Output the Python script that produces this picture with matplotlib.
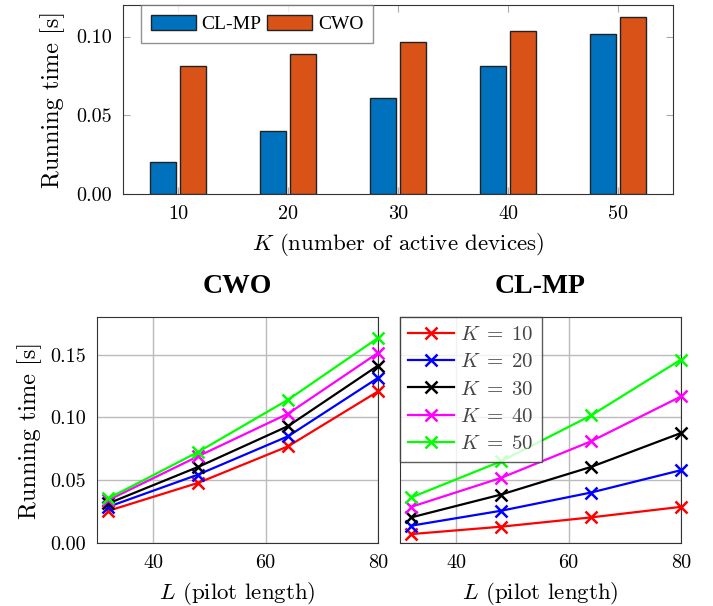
import matplotlib
matplotlib.use('Agg')
import matplotlib.pyplot as plt
import numpy as np

plt.rcParams['font.family'] = ['cmr10', 'DejaVu Serif']
plt.rcParams['mathtext.fontset'] = 'cm'
plt.rcParams['axes.unicode_minus'] = False

# bar chart data
K_vals = [10, 20, 30, 40, 50]
t_clmp = [0.0202, 0.0403, 0.0607, 0.0811, 0.1015]
t_cwo = [0.0815, 0.0890, 0.0964, 0.1036, 0.1121]

# line chart data
L_vals = [32, 48, 64, 80]
K_labels = [10, 20, 30, 40, 50]
line_colors = ['#ff0000', '#0000ff', '#000000', '#ff00ff', '#00ff00']
cwo_times = [
    [0.0256, 0.0479, 0.0770, 0.1207],
    [0.0288, 0.0545, 0.0850, 0.1315],
    [0.0315, 0.0606, 0.0931, 0.1413],
    [0.0341, 0.0691, 0.1030, 0.1514],
    [0.0355, 0.0725, 0.1141, 0.1633],
]
clmp_times = [
    [0.0071, 0.0130, 0.0204, 0.0288],
    [0.0138, 0.0257, 0.0402, 0.0580],
    [0.0204, 0.0386, 0.0606, 0.0876],
    [0.0288, 0.0519, 0.0810, 0.1167],
    [0.0363, 0.0651, 0.1016, 0.1461],
]

W, H = 713, 606
fig = plt.figure(figsize=(W / 100, H / 100), dpi=100)

def box(l, t, r, b):
    return [l / W, 1 - b / H, (r - l) / W, (b - t) / H]

tick_fs = 14.5
xlab_fs = 16.5
ylab_fs = 17.5
times = ['Liberation Serif', 'DejaVu Serif']

# top: bar chart
ax = fig.add_axes(box(123, 5, 673, 194))
x = np.array(K_vals, dtype=float)
bw = 2.35
ax.bar(x - 1.4, t_clmp, bw, color='#0072BD', edgecolor='#222222', lw=1.0, label='CL-MP', zorder=3)
ax.bar(x + 1.4, t_cwo, bw, color='#D95319', edgecolor='#222222', lw=1.0, label='CWO', zorder=3)
ax.set_xlim(5, 55)
ax.set_ylim(0, 0.12)
ax.set_xticks(K_vals)
ax.set_yticks([0, 0.05, 0.10])
ax.set_yticklabels(['0.00', '0.05', '0.10'])
ax.tick_params(direction='in', length=5, color='#aaaaaa', labelsize=tick_fs,
               top=True, right=True, pad=8)
ax.set_xlabel('$K$ (number of active devices)', fontsize=xlab_fs, labelpad=6)
ax.set_ylabel('Running time [s]', fontsize=ylab_fs, labelpad=8)
for s in ax.spines.values():
    s.set_color('#333333')
leg = ax.legend(loc='upper left', ncol=2, prop={'family': times, 'size': 14},
                frameon=True, fancybox=False,
                edgecolor='#777777', borderaxespad=0.0, handlelength=2.3,
                handleheight=0.8, columnspacing=0.3, handletextpad=0.3,
                borderpad=0.5, bbox_to_anchor=(0.033, 1.0))
leg.get_frame().set_linewidth(1.0)

def line_panel(ax, data, title, show_y):
    for i, k in enumerate(K_labels):
        ax.plot(L_vals, data[i], color=line_colors[i], marker='x', ms=8, mew=1.8,
                lw=1.6, label=f'$K\\;=\\;{k}$', zorder=3, clip_on=False)
    ax.set_xlim(30, 80)
    ax.set_ylim(0, 0.18)
    ax.set_xticks([40, 60, 80])
    ax.set_yticks([0, 0.05, 0.10, 0.15])
    ax.grid(True, color='#bbbbbb', lw=1.0)
    ax.tick_params(direction='in', length=0, labelsize=tick_fs, pad=8)
    ax.set_xlabel('$L$ (pilot length)', fontsize=xlab_fs, labelpad=6)
    ax.set_title(title, fontsize=20, fontweight='bold', family=times, pad=17)
    for s in ax.spines.values():
        s.set_color('#333333')
    if show_y:
        ax.set_yticklabels(['0.00', '0.05', '0.10', '0.15'])
        ax.set_ylabel('Running time [s]', fontsize=ylab_fs, labelpad=6)
    else:
        ax.set_yticklabels([])

ax1 = fig.add_axes(box(97, 317, 378, 543))
line_panel(ax1, cwo_times, 'CWO', True)
ax2 = fig.add_axes(box(400, 317, 681, 543))
line_panel(ax2, clmp_times, 'CL-MP', False)
leg2 = ax2.legend(loc='upper left', fontsize=15, frameon=True, fancybox=False,
                  edgecolor='#333333', borderaxespad=0.0, framealpha=0.8,
                  handlelength=2.2, handletextpad=0.3, labelspacing=0.42,
                  borderpad=0.4)
leg2.get_frame().set_linewidth(1.0)
for t in leg2.get_texts():
    t.set_color('#444444')

fig.savefig('out.png', dpi=100)
